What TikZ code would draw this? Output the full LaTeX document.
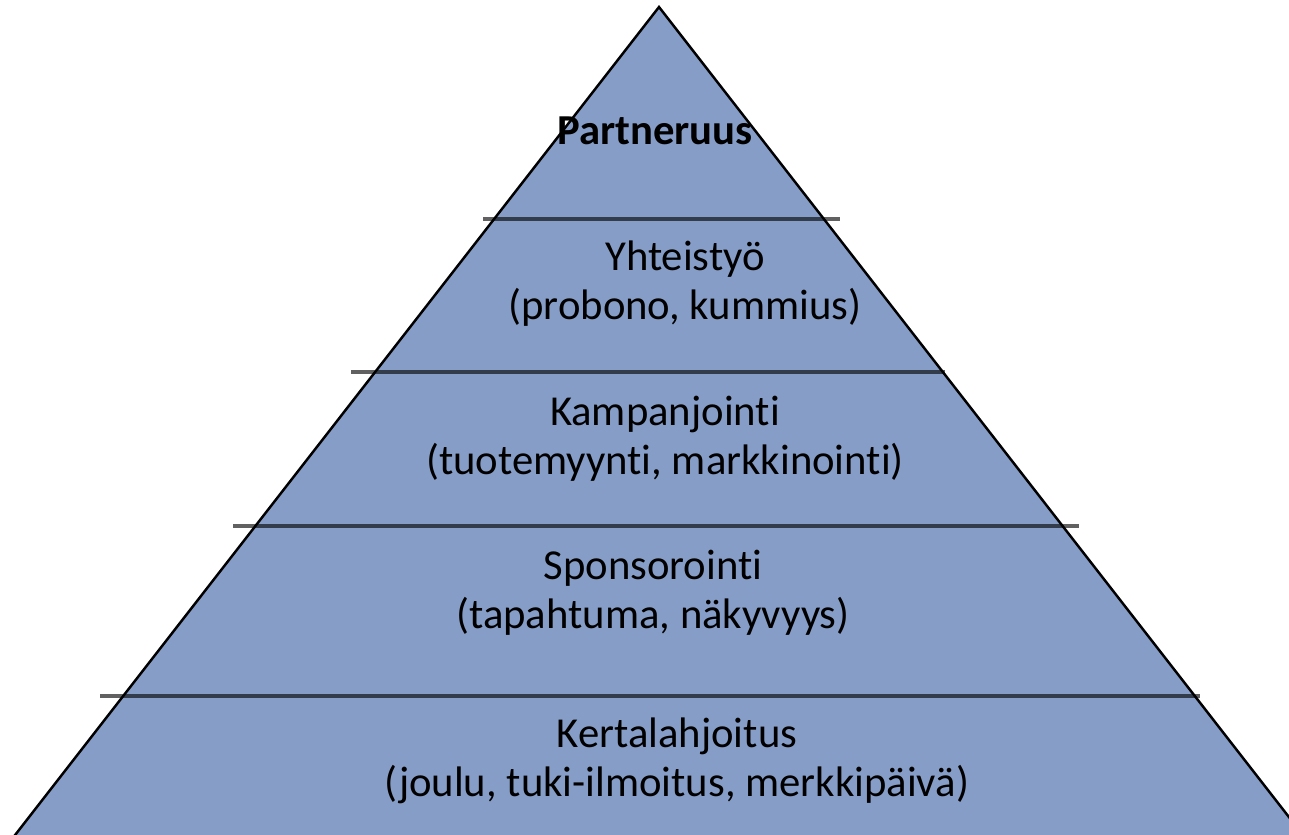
\documentclass[tikz,border=0pt]{standalone}
\usepackage{fontspec}
\setmainfont[RawFeature={-liga;-clig;-calt;-dlig}]{Carlito}
\usepackage{tikz}
\definecolor{pyrblue}{RGB}{134,158,199}

\tikzset{
  level/.style={align=center, font=\fontsize{24.3}{27.8}\selectfont},
  divider/.style={black, opacity=0.62, line width=2.1pt}
}

\begin{document}
\begin{tikzpicture}[x=0.02cm,y=-0.02cm]
\coordinate (TopLeft) at (0,0);
\coordinate (BottomRight) at (1289,835);
\useasboundingbox (TopLeft) rectangle (BottomRight);
\clip (TopLeft) rectangle (BottomRight);

%%Pyramid
\coordinate (Apex) at (659,7);
\coordinate (BaseL) at (-16,875);
\coordinate (BaseR) at (1334,875);
\fill[pyrblue] (Apex) -- (BaseL) -- (BaseR) -- cycle;
\draw[black, line width=1.4pt] (BaseL) -- (Apex) -- (BaseR);

%%Dividers
\coordinate (d1l) at (483,219); \coordinate (d1r) at (840,219);
\coordinate (d2l) at (351,372); \coordinate (d2r) at (945,372);
\coordinate (d3l) at (233,526); \coordinate (d3r) at (1079,526);
\coordinate (d4l) at (100,696); \coordinate (d4r) at (1200,696);
\foreach \d in {1,...,4}
  \draw[divider] (d\d l) -- (d\d r);

%%Levels
\node[level, font=\fontsize{24.3}{27.8}\selectfont\bfseries] (partner) at (655,131) {Partneruus};
\node[level] (yhteis) at (685,284) {Yhteistyö\\(probono, kummius)};
\node[level] (kampanja) at (665,439) {Kampanjointi\\(tuotemyynti, markkinointi)};
\node[level] (sponsori) at (653,593) {Sponsorointi\\(tapahtuma, näkyvyys)};
\node[level] (kerta) at (677,761) {Kertalahjoitus\\(joulu, tuki-ilmoitus, merkkipäivä)};

\end{tikzpicture}
\end{document}
